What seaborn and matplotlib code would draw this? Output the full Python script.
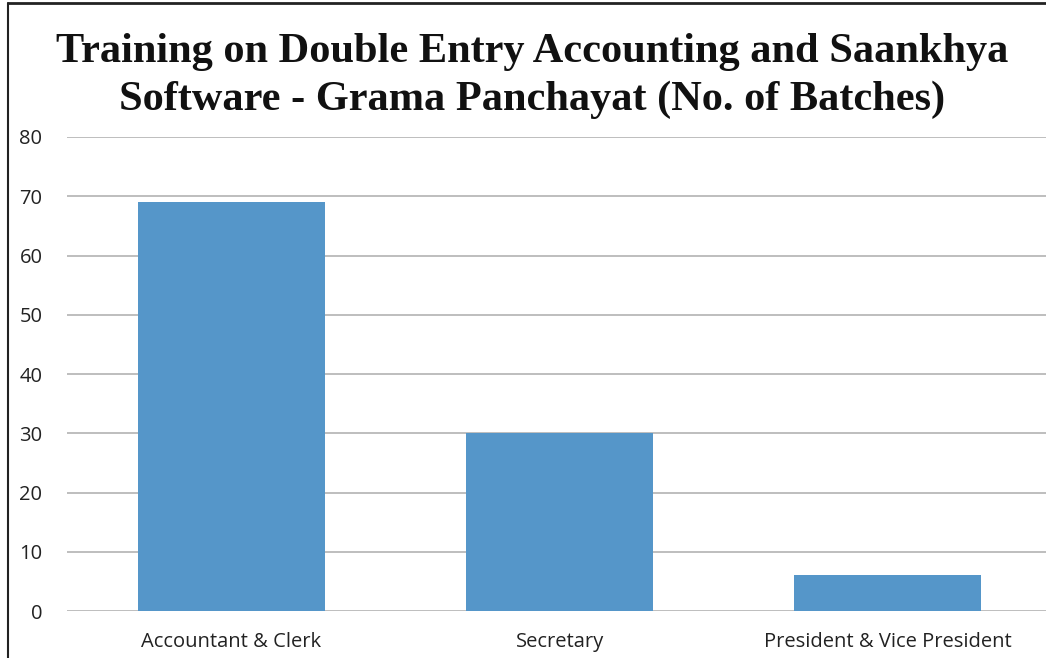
import numpy as np
import pandas as pd
import matplotlib.pyplot as plt
import seaborn as sns
from matplotlib.lines import Line2D

# данные графика
categories = ['Accountant & Clerk', 'Secretary', 'President & Vice President']
batches = [69, 30, 6]
y_ticks = [0, 10, 20, 30, 40, 50, 60, 70, 80]

df = pd.DataFrame({'role': categories, 'batches': batches})

sns.set_style('white')
plt.rcParams['font.family'] = ['Open Sans', 'DejaVu Sans']

fig = plt.figure(figsize=(10.46, 6.58), dpi=100)
ax = fig.add_axes([0.0645, 0.0714, 0.941, 0.7204])

sns.barplot(data=df, x='role', y='batches', color='#5596c9', width=0.57,
            saturation=1, linewidth=0, ax=ax, zorder=3)

ax.set_ylim(0, 80)
ax.set_xlim(-0.5, 2.5)
ax.set_yticks(y_ticks)
ax.yaxis.grid(True, color='#b3b3b3', linewidth=1.2, zorder=0)
ax.set_axisbelow(True)
for s in ax.spines.values():
    s.set_visible(False)
ax.tick_params(axis='both', length=0, labelsize=14.5, colors='#222222')
ax.tick_params(axis='y', pad=18)
ax.tick_params(axis='x', pad=15)
ax.set_xlabel('')
ax.set_ylabel('')

# заголовок
fig.text(0.509, 0.884,
         'Training on Double Entry Accounting and Saankhya\nSoftware - Grama Panchayat (No. of Batches)',
         ha='center', va='center', fontsize=30.5, fontweight='bold',
         family='Liberation Serif', linespacing=1.32, color='#111111')

# рамка слева и сверху
fig.add_artist(Line2D([0.0072, 0.0072], [0, 0.995], color='#222222', linewidth=1.5))
fig.add_artist(Line2D([0.0072, 1], [0.995, 0.995], color='#222222', linewidth=2))

fig.savefig('out.png', dpi=100)
